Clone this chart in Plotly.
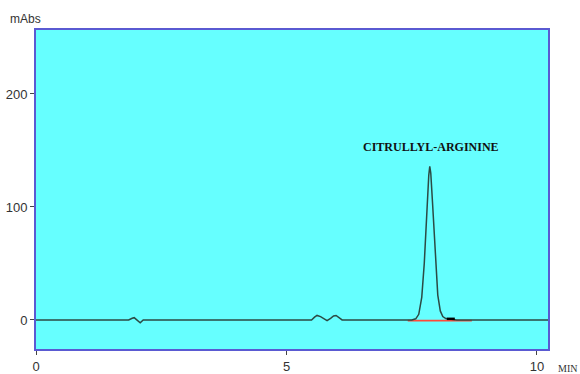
import plotly.graph_objects as go

# Chromatogram trace (time in min, absorbance in mAbs)
time_min = [0.0, 1.85, 1.92, 1.96, 2.00, 2.04, 2.08, 2.14, 5.50, 5.56, 5.61, 5.68, 5.76, 5.81,
            5.88, 5.94, 5.99, 6.05, 6.11, 7.50, 7.58, 7.64, 7.70, 7.75, 7.80, 7.84, 7.86,
            7.88, 7.92, 7.97, 8.02, 8.07, 8.12, 8.18, 8.26, 8.40, 10.22]
absorb = [0.0, 0.0, 1.5, 2.0, 0.5, -1.5, -2.5, 0.0, 0.0, 2.5, 4.0, 3.0, 1.0, -0.5,
          1.5, 3.5, 4.0, 2.0, 0.0, 0.0, 1.0, 5.0, 20.0, 50.0, 98.0, 128.0, 136.0,
          130.0, 100.0, 55.0, 22.0, 8.0, 3.0, 1.2, 0.6, 0.0, 0.0]

# Integration baseline and peak-end marker
base_t = [7.42, 8.70]
base_v = [-0.6, -0.6]
mark_t = [8.20, 8.36]
mark_v = [1.0, 1.0]

peak_label = "CITRULLYL-ARGININE"
peak_label_t = 7.88
peak_label_v = 153

x_ticks = [0, 5, 10]
y_ticks = [0, 100, 200]

fig = go.Figure()
fig.add_trace(go.Scatter(x=base_t, y=base_v, mode="lines",
                         line=dict(color="#ff4a3a", width=1.6), showlegend=False))
fig.add_trace(go.Scatter(x=time_min, y=absorb, mode="lines",
                         line=dict(color="#2c4a44", width=1.5), showlegend=False))
fig.add_trace(go.Scatter(x=mark_t, y=mark_v, mode="lines",
                         line=dict(color="#000000", width=2.5), showlegend=False))

fig.add_annotation(x=peak_label_t, y=peak_label_v, text="<b>" + peak_label + "</b>", showarrow=False,
                   font=dict(family="Liberation Serif, serif", size=12, color="#111111"),
                   xanchor="center", yanchor="middle")
fig.add_annotation(x=-0.055, y=1.005, xref="paper", yref="paper", text="mAbs",
                   showarrow=False, xanchor="left", yanchor="bottom",
                   font=dict(family="Liberation Sans Narrow, Arial Narrow, sans-serif", size=12, color="#333333"))
fig.add_annotation(x=1.0, y=0, xref="paper", yref="paper", text="MIN",
                   showarrow=False, xanchor="left", yanchor="top", xshift=8, yshift=-12,
                   font=dict(family="Liberation Serif, serif", size=10, color="#333333"))

axis_font = dict(family="Liberation Sans Narrow, Arial Narrow, sans-serif", size=13, color="#333333")
fig.update_xaxes(range=[0, 10.22], tickvals=x_ticks, ticks="outside", ticklen=4,
                 tickcolor="#444444", showgrid=False, zeroline=False, automargin=False,
                 showline=True, linecolor="#5a5ad2", linewidth=2, mirror=True,
                 tickfont=axis_font)
fig.update_yaxes(range=[-25.7, 256.6], tickvals=y_ticks, ticks="outside", ticklen=4,
                 tickcolor="#444444", showgrid=False, zeroline=False, automargin=False,
                 showline=True, linecolor="#5a5ad2", linewidth=2, mirror=True,
                 tickfont=axis_font)
fig.update_layout(width=580, height=374, margin=dict(l=36, r=32, t=30, b=25),
                  plot_bgcolor="#66ffff", paper_bgcolor="#ffffff")
fig.write_html("out.html")
